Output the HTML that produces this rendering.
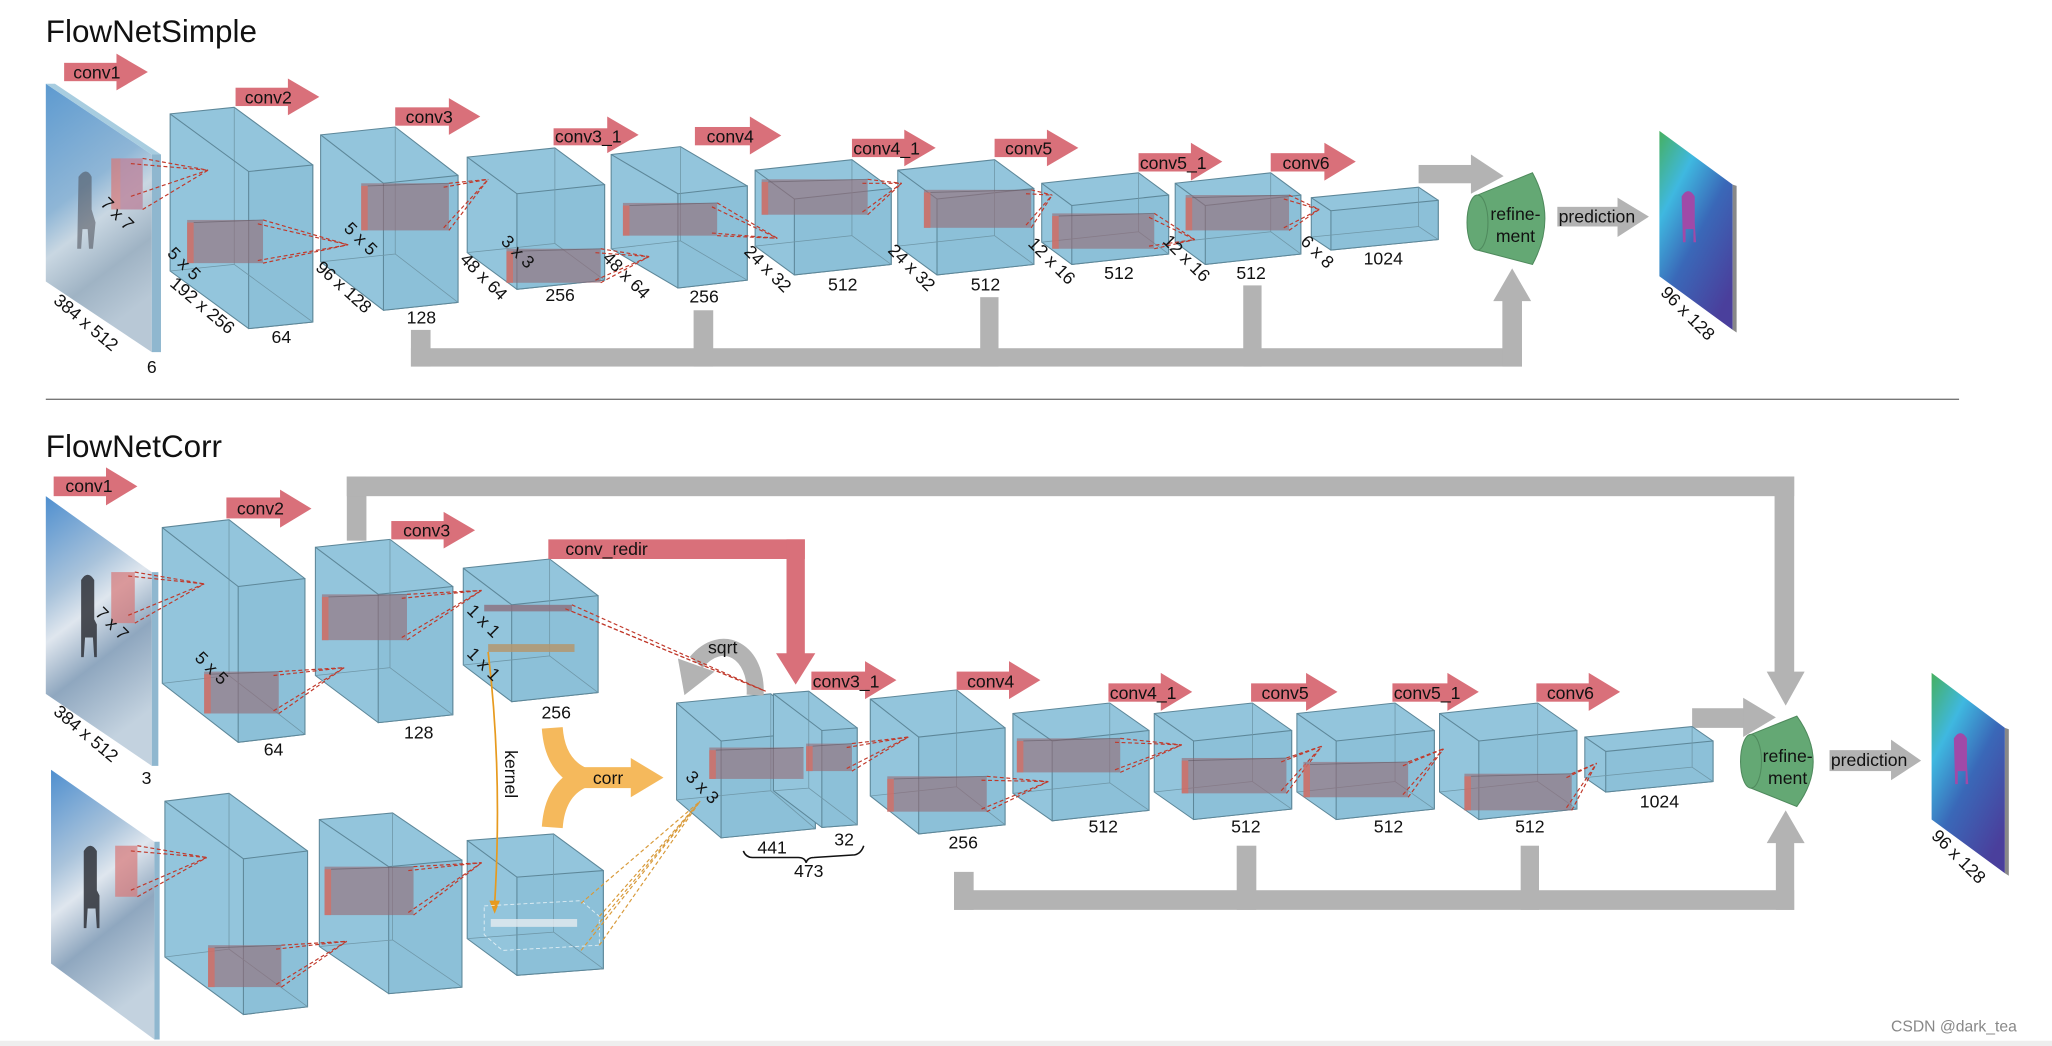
<!DOCTYPE html>
<html><head><meta charset="utf-8"><style>
html,body{margin:0;padding:0;background:#fff;}
svg{display:block;}
text{font-family:"Liberation Sans",Arial,sans-serif;fill:#111;}
.lb{font-size:13.5px;}
.al{font-size:13.5px;}
</style></head><body>
<svg id="s" width="2052" height="1046" viewBox="0 0 1568 799" preserveAspectRatio="none" xmlns="http://www.w3.org/2000/svg">
<defs>
<linearGradient id="img" x1="0" y1="0" x2="0.3" y2="1">
<stop offset="0" stop-color="#5d9ad0"/><stop offset="0.45" stop-color="#8fb6d6"/><stop offset="0.6" stop-color="#c9d7e2"/><stop offset="0.8" stop-color="#9fb3c4"/><stop offset="1" stop-color="#b8c8d6"/>
</linearGradient>
<linearGradient id="img2" x1="0" y1="0" x2="0.3" y2="1">
<stop offset="0" stop-color="#4f8fcf"/><stop offset="0.35" stop-color="#a9c3db"/><stop offset="0.5" stop-color="#dfe6ee"/><stop offset="0.7" stop-color="#8fa7bf"/><stop offset="1" stop-color="#c3d2df"/>
</linearGradient>
<linearGradient id="flow" x1="0" y1="0" x2="0.7" y2="1">
<stop offset="0" stop-color="#46b060"/><stop offset="0.3" stop-color="#3fb8e0"/><stop offset="0.6" stop-color="#3a68b8"/><stop offset="1" stop-color="#4a3f9c"/>
</linearGradient>
</defs>

<!-- separator -->
<line x1="35" y1="305" x2="1497" y2="305" stroke="#777" stroke-width="1"/>
<rect x="0" y="795" width="1568" height="4" fill="#eeeeee"/>

<text x="35" y="32" style="font-size:24px">FlowNetSimple</text>
<text x="35" y="349" style="font-size:24px">FlowNetCorr</text>

<!-- gray connectors top -->
<g fill="#b3b3b3">
<rect x="314" y="252" width="15" height="28"/>
<rect x="530" y="237" width="15" height="43"/>
<rect x="749" y="227" width="14" height="53"/>
<rect x="950" y="218" width="14" height="62"/>
<rect x="314" y="266" width="849" height="14"/>
<rect x="1148" y="228" width="15" height="52"/>
<polygon points="1141,230 1170,230 1155.5,205"/>
<rect x="1084" y="126" width="41" height="14"/>
<polygon points="1124,118 1149,134.5 1124,148"/>
<rect x="1190" y="158" width="48" height="15"/>
<polygon points="1236,151 1260,165.5 1236,181"/>
<!-- bottom -->
<rect x="265" y="364" width="15" height="49"/>
<rect x="265" y="364" width="1106" height="15"/>
<rect x="1356" y="364" width="15" height="152"/>
<polygon points="1350,513 1379,513 1364.5,539"/>
<rect x="1293" y="541" width="41" height="15"/>
<polygon points="1332,533 1357,548 1332,563"/>
<rect x="729" y="666" width="15" height="29"/>
<rect x="945" y="646" width="15" height="49"/>
<rect x="1162" y="646" width="14" height="49"/>
<rect x="729" y="680" width="642" height="15"/>
<rect x="1357" y="642" width="14" height="53"/>
<polygon points="1350,644 1379,644 1364.5,619"/>
<rect x="1398" y="573" width="49" height="16"/>
<polygon points="1445,565 1468,581 1445,596"/>
</g>

<!-- input slabs -->
<polygon points="35,64 116,118 116,269 35,215" fill="url(#img)"/>
<polygon points="116,118 123,118 123,269 116,269" fill="#8fb7cf"/>
<polygon points="35,64 42,64 123,118 116,118" fill="#a8cde0"/>
<path d="M60,135 q6,-8 10,0 l0,25 l3,10 l-2,20 l-3,0 l-1,-15 l-4,0 l-1,15 l-3,0 z" fill="#4a4c55" opacity="0.55"/>

<polygon points="35,379 116,437 116,585 35,530" fill="url(#img2)"/>
<polygon points="116,437 121,437 121,585 116,585" fill="#8fb7cf"/>
<path d="M62,443 q5,-8 10,0 l0,30 l2,4 l0,25 l-2,0 l-1,-15 l-6,0 l-1,15 l-2,0 z" fill="#2f3138" opacity="0.85"/>

<polygon points="39,588 118,643 118,794 39,736" fill="url(#img2)"/>
<polygon points="118,643 122,643 122,794 118,794" fill="#8fb7cf"/>
<path d="M64,650 q5,-8 10,0 l0,30 l2,4 l0,25 l-2,0 l-1,-15 l-6,0 l-1,15 l-2,0 z" fill="#2f3138" opacity="0.85"/>

<!-- flow slabs -->
<polygon points="1268,100 1324,141 1324,252 1268,211" fill="url(#flow)"/>
<polygon points="1324,141 1327,142 1327,254 1324,252" fill="#888"/>
<path d="M1285,150 q5,-8 10,0 l0,20 l1,15 l-2,0 l0,-10 l-6,0 l0,10 l-2,0 z" fill="#a04aa8"/>
<polygon points="1476,514 1532,556 1532,667 1476,626" fill="url(#flow)"/>
<polygon points="1532,556 1535,557 1535,669 1532,667" fill="#888"/>
<path d="M1493,564 q5,-8 10,0 l0,20 l1,15 l-2,0 l0,-10 l-6,0 l0,10 l-2,0 z" fill="#a04aa8"/>

<g id="boxes"></g>

<!-- refinement -->
<g fill="#64a874" stroke="#4f8a5d" stroke-width="0.8">
<path d="M1129,149 L1171,132 Q1190,167 1171,202 L1129,191 Z"/>
<ellipse cx="1129" cy="170" rx="8" ry="21"/>
<path d="M1338,561 L1373,547 Q1398,582 1373,616 L1338,602 Z"/>
<ellipse cx="1338" cy="581.5" rx="8" ry="20.5"/>
</g>
<text x="1158" y="168" text-anchor="middle" style="font-size:13.5px">refine-</text>
<text x="1158" y="185" text-anchor="middle" style="font-size:13.5px">ment</text>
<text x="1366" y="582" text-anchor="middle" style="font-size:13.5px">refine-</text>
<text x="1366" y="599" text-anchor="middle" style="font-size:13.5px">ment</text>
<text x="1191" y="170" style="font-size:13.5px">prediction</text>
<text x="1399" y="585" style="font-size:13.5px">prediction</text>

<!-- conv_redir -->
<g fill="#d9707a">
<rect x="419" y="412" width="196" height="15"/>
<rect x="601" y="412" width="14" height="89"/>
<polygon points="593,499 623,499 608,523"/>
</g>
<text x="432" y="424" class="al">conv_redir</text>

<!-- sqrt -->
<path d="M577,531 C579,498 552,482 532,506" fill="none" stroke="#b3b3b3" stroke-width="13"/>
<polygon points="518,503 546,513 523,531" fill="#b3b3b3"/>
<text x="541" y="499" class="al">sqrt</text>

<!-- corr -->
<g fill="none" stroke="#f5b95c" stroke-width="16">
<path d="M422,556 Q424,585 445,594"/>
<path d="M422,632 Q424,603 445,594"/>
</g>
<rect x="436" y="586" width="48" height="16" fill="#f5b95c"/>
<polygon points="482,579 507,594 482,609" fill="#f5b95c"/>
<text x="453" y="599" class="al">corr</text>

<!-- kernel -->
<path d="M373,498 Q384,590 378,690" fill="none" stroke="#e79a1e" stroke-width="1.3"/>
<polygon points="374,688 382,688 378,698" fill="#e79a1e"/>
<text x="386" y="573" class="al" transform="rotate(90 386 573)">kernel</text>

<g id="over"></g>

<!-- conv arrows -->
<g fill="#d9707a" id="arrows"></g>
<g class="al">
<text x="56" y="60">conv1</text>
<text x="187" y="79">conv2</text>
<text x="310" y="94">conv3</text>
<text x="424" y="109">conv3_1</text>
<text x="540" y="109">conv4</text>
<text x="652" y="118">conv4_1</text>
<text x="768" y="118">conv5</text>
<text x="871" y="129">conv5_1</text>
<text x="980" y="129">conv6</text>
<text x="50" y="376">conv1</text>
<text x="181" y="393">conv2</text>
<text x="308" y="410">conv3</text>
<text x="621" y="525">conv3_1</text>
<text x="739" y="525">conv4</text>
<text x="848" y="534">conv4_1</text>
<text x="964" y="534">conv5</text>
<text x="1065" y="534">conv5_1</text>
<text x="1182" y="534">conv6</text>
</g>

<!-- labels top -->
<g class="lb">
<text x="90" y="168" text-anchor="middle" transform="rotate(45 90 163)">7 x 7</text>
<text x="66" y="251" text-anchor="middle" transform="rotate(40 66 246)">384 x 512</text>
<text x="116" y="285" text-anchor="middle">6</text>
<text x="141" y="206" text-anchor="middle" transform="rotate(45 141 201)">5 x 5</text>
<text x="155" y="238" text-anchor="middle" transform="rotate(40 155 233)">192 x 256</text>
<text x="215" y="262" text-anchor="middle">64</text>
<text x="276" y="187" text-anchor="middle" transform="rotate(45 276 182)">5 x 5</text>
<text x="263" y="224" text-anchor="middle" transform="rotate(42 263 219)">96 x 128</text>
<text x="322" y="247" text-anchor="middle">128</text>
<text x="396" y="197" text-anchor="middle" transform="rotate(45 396 192)">3 x 3</text>
<text x="370" y="216" text-anchor="middle" transform="rotate(45 370 211)">48 x 64</text>
<text x="428" y="230" text-anchor="middle">256</text>
<text x="479" y="215" text-anchor="middle" transform="rotate(45 479 210)">48 x 64</text>
<text x="538" y="231" text-anchor="middle">256</text>
<text x="587" y="210" text-anchor="middle" transform="rotate(45 587 205)">24 x 32</text>
<text x="644" y="222" text-anchor="middle">512</text>
<text x="697" y="209" text-anchor="middle" transform="rotate(45 697 204)">24 x 32</text>
<text x="753" y="222" text-anchor="middle">512</text>
<text x="804" y="204" text-anchor="middle" transform="rotate(45 804 199)">12 x 16</text>
<text x="855" y="213" text-anchor="middle">512</text>
<text x="907" y="202" text-anchor="middle" transform="rotate(45 907 197)">12 x 16</text>
<text x="956" y="213" text-anchor="middle">512</text>
<text x="1007" y="197" text-anchor="middle" transform="rotate(45 1007 192)">6 x 8</text>
<text x="1057" y="202" text-anchor="middle">1024</text>
<text x="1290" y="244" text-anchor="middle" transform="rotate(45 1290 239)">96 x 128</text>
<!-- bottom -->
<text x="86" y="481" text-anchor="middle" transform="rotate(45 86 476)">7 x 7</text>
<text x="66" y="565" text-anchor="middle" transform="rotate(40 66 560)">384 x 512</text>
<text x="112" y="599" text-anchor="middle">3</text>
<text x="162" y="515" text-anchor="middle" transform="rotate(45 162 510)">5 x 5</text>
<text x="209" y="577" text-anchor="middle">64</text>
<text x="320" y="564" text-anchor="middle">128</text>
<text x="370" y="479" text-anchor="middle" transform="rotate(45 370 474)">1 x 1</text>
<text x="370" y="512" text-anchor="middle" transform="rotate(45 370 507)">1 x 1</text>
<text x="425" y="549" text-anchor="middle">256</text>
<text x="537" y="606" text-anchor="middle" transform="rotate(45 537 601)">3 x 3</text>
<text x="590" y="652" text-anchor="middle">441</text>
<text x="645" y="646" text-anchor="middle">32</text>
<text x="618" y="670" text-anchor="middle">473</text>
<text x="736" y="648" text-anchor="middle">256</text>
<text x="843" y="636" text-anchor="middle">512</text>
<text x="952" y="636" text-anchor="middle">512</text>
<text x="1061" y="636" text-anchor="middle">512</text>
<text x="1169" y="636" text-anchor="middle">512</text>
<text x="1268" y="617" text-anchor="middle">1024</text>
<text x="1497" y="659" text-anchor="middle" transform="rotate(45 1497 654)">96 x 128</text>
</g>
<path d="M568,650 Q570,655 575,655 L610,655 Q615,655 616,659 Q617,655 622,655 L653,653 Q658,652 660,646" fill="none" stroke="#111" stroke-width="1.2"/>
<text x="1445" y="788" style="font-size:12px;fill:#888">CSDN @dark_tea</text>

<script>
(function(){
var NS="http://www.w3.org/2000/svg";
var G=document.getElementById("boxes"), O=document.getElementById("over"), A=document.getElementById("arrows");
function el(p,tag,at){var e=document.createElementNS(NS,tag);for(var k in at)e.setAttribute(k,at[k]);p.appendChild(e);return e;}
function pts(a){return a.map(function(p){return p[0].toFixed(1)+","+p[1].toFixed(1)}).join(" ");}
function box(x,y,w,s,h,dx,dy){
 var B0=[x,y],B1=[x+w,y-s],B2=[x+w,y-s+h],B3=[x,y+h];
 function f(p){return [p[0]+dx,p[1]+dy];}
 var F0=f(B0),F1=f(B1),F2=f(B2),F3=f(B3);
 el(G,"polygon",{points:pts([B0,B1,F1,F2,F3,B3]),fill:"#93c5dc",stroke:"#5d8799","stroke-width":"0.8"});
 el(G,"polygon",{points:pts([F0,F1,F2,F3]),fill:"#8cc0d8",stroke:"#5d8799","stroke-width":"0.8"});
 el(G,"polyline",{points:pts([B1,B2,B3]),fill:"none",stroke:"#6f97a8","stroke-width":"0.6"});
 el(G,"line",{x1:B2[0],y1:B2[1],x2:F2[0],y2:F2[1],stroke:"#6f97a8","stroke-width":"0.6"});
 el(G,"line",{x1:B0[0],y1:B0[1],x2:F0[0],y2:F0[1],stroke:"#5d8799","stroke-width":"0.8"});
}
function kern(x1,y1,x2,y2,cx,cy,col){
 el(O,"rect",{x:x1,y:y1,width:x2-x1,height:y2-y1,fill:"rgba(150,105,115,0.6)"});
 el(O,"rect",{x:x1,y:y1+2,width:5,height:y2-y1-2,fill:"rgba(215,110,100,0.75)"});
 el(O,"line",{x1:x1+5,y1:y1+2,x2:x2,y2:y1,stroke:"rgba(90,80,90,0.5)","stroke-width":"0.7"});
 if(cx!=null){
  var c=col||"#c0392b";
  [[x2,y1],[x2,y2],[x2-4,y1+3],[x2-4,y2-2]].forEach(function(p){
   el(O,"line",{x1:p[0],y1:p[1],x2:cx,y2:cy,stroke:c,"stroke-width":"0.9","stroke-dasharray":"3,2"});
  });
 }
}
// top row
box(130,87,49,5,120,60,44);
box(245,103,57,6,97,48,37);
box(357,120,67,7,73,38,28);
box(467,118,53,6,72,51,30);
box(577,130,74,8,58,30,22);
box(686,130,74,8,58,30,22);
box(796,140,74,8,45,23,17);
box(898,140,73,8,45,23,17);
box(1002,151,82,8,30,15,10);
// bottom
box(124,403,51,6,119,58,45);
box(241,418,57,6,98,48,36);
box(354,434,66,7,74,37,28);
box(126,612,49,6,119,60,44);
box(244,626,56,5,97,53,36);
box(357,642,66,5,75,38,28);
box(517,537,72,7,74,34,29);
box(591,530,27,2,74,37,28);
box(665,534,66,7,74,37,29);
box(774,545,74,8,61,30,21);
box(882,545,75,8,60,30,21);
box(991,545,75,8,60,30,21);
box(1100,545,75,8,60,30,21);
box(1211,563,82,8,31,16,11);
// kernels top
el(O,"rect",{x:85,y:121,width:24,height:39,fill:"rgba(215,120,120,0.7)"});
el(O,"rect",{x:92,y:121,width:17,height:39,fill:"rgba(170,150,190,0.5)"});
[[109,121],[109,160],[100,125],[100,150]].forEach(function(p){el(O,"line",{x1:p[0],y1:p[1],x2:159,y2:130,stroke:"#c0392b","stroke-width":"0.9","stroke-dasharray":"3,2"});});
kern(143,168,201,201,266,187);
kern(276,140,343,176,373,137);
kern(387,190,459,216,496,196);
kern(476,155,548,180,594,182);
kern(582,137,663,164,689,140);
kern(706,145,788,174,804,149);
kern(804,163,882,190,913,183);
kern(906,149,985,176,1008,160);
// bottom kernels
el(O,"rect",{x:85,y:437,width:18,height:39,fill:"rgba(215,120,120,0.7)"});
[[103,437],[103,476],[98,440],[98,470]].forEach(function(p){el(O,"line",{x1:p[0],y1:p[1],x2:156,y2:446,stroke:"#c0392b","stroke-width":"0.9","stroke-dasharray":"3,2"});});
el(O,"rect",{x:88,y:646,width:17,height:39,fill:"rgba(215,120,120,0.7)"});
[[105,646],[105,685],[100,650],[100,680]].forEach(function(p){el(O,"line",{x1:p[0],y1:p[1],x2:158,y2:655,stroke:"#c0392b","stroke-width":"0.9","stroke-dasharray":"3,2"});});
kern(156,513,213,545,263,510);
kern(246,454,311,489,368,451);
kern(159,722,215,754,265,719);
kern(248,662,316,699,368,659);
el(O,"rect",{x:370,y:462,width:67,height:5,fill:"rgba(140,110,125,0.8)"});
el(O,"rect",{x:373,y:492,width:66,height:6,fill:"rgba(180,150,110,0.85)"});
el(O,"rect",{x:375,y:702,width:66,height:6,fill:"rgba(230,235,240,0.8)"});
el(O,"polygon",{points:"370,692 444,688 458,700 458,722 384,726 370,714",fill:"none",stroke:"rgba(255,255,255,0.7)","stroke-width":"0.7","stroke-dasharray":"3,2"});
[[437,462],[437,467],[432,465]].forEach(function(p){el(O,"line",{x1:p[0],y1:p[1],x2:585,y2:528,stroke:"#c0392b","stroke-width":"0.9","stroke-dasharray":"3,2"});});
[[444,690],[458,700],[458,722],[444,726],[452,712]].forEach(function(p){el(O,"line",{x1:p[0],y1:p[1],x2:535,y2:612,stroke:"#d89a3a","stroke-width":"0.9","stroke-dasharray":"3,2"});});
kern(542,571,614,595,null,null);
kern(616,568,651,589,694,563);
kern(678,593,754,620,801,597);
kern(777,564,856,590,903,569);
kern(903,579,983,606,1010,570);
kern(996,582,1076,609,1103,572);
kern(1119,591,1201,619,1220,583);
// arrows [x1, y1, y2, tip, hy1, hy2]
[[49,48,62,113,41,69],[180,67,81,244,60,88],[302,82,96,367,75,103],[423,98,111,488,89,117],
 [531,97,111,597,89,118],[651,106,120,715,99,127],[760,106,120,824,99,127],[870,117,131,934,109,138],[971,117,131,1036,109,138],
 [41,364,379,105,357,386],[173,380,396,238,374,403],[299,398,412,363,391,419],[620,513,527,685,505,534],
 [731,513,527,795,505,534],[847,522,536,911,514,543],[956,522,536,1022,514,543],[1064,522,536,1130,514,543],[1174,522,536,1238,514,543]
].forEach(function(a){
 var hs=a[3]-24;
 el(A,"rect",{x:a[0],y:a[1],width:hs-a[0]+1,height:a[2]-a[1]});
 el(A,"polygon",{points:hs+","+a[4]+" "+a[3]+","+((a[4]+a[5])/2)+" "+hs+","+a[5]});
});
})();
</script>
</svg>
</body></html>
